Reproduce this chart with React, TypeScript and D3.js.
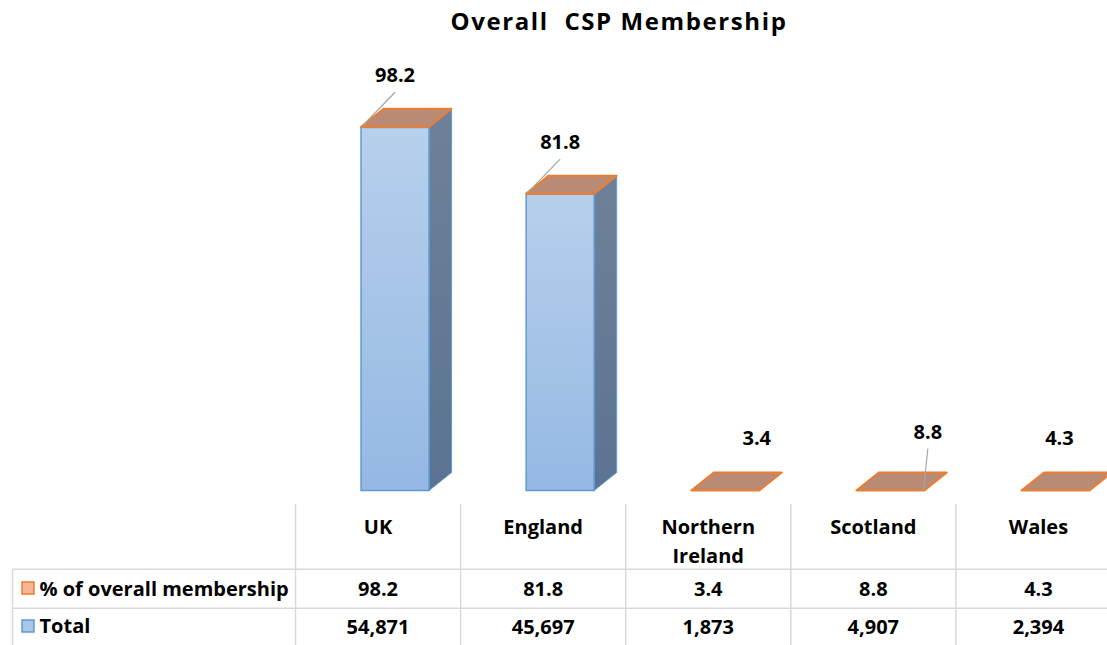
import { useEffect } from 'react';
import * as d3 from 'd3';

// chart data
const categories = ['UK', 'England', 'Northern Ireland', 'Scotland', 'Wales'];
const pctValues = [98.2, 81.8, 3.4, 8.8, 4.3];
const totalValues = [54871, 45697, 1873, 4907, 2394];
const seriesNames = ['% of overall membership', 'Total'];
const yDomain = [5000, 55000];

// layout only: data label offsets (from front-face centre / bar top to baseline), leader on/off
const labelDX = [0, 0, 31.5, 37.5, 4];
const labelDY = [-44.5, -44.5, -45.5, -52, -45.5];
const hasLeader = [true, true, false, true, false];

const W = 1107;
const H = 645;
const FONT = '"Open Sans", Lato, sans-serif';

const App = () => {
    useEffect(() => {
        document.body.style.margin = '0';
    }, []);

    const x = d3.scaleBand().domain(categories).range([295.5, 1121]).padding(0);
    const y = d3.scaleLinear().domain(yDomain).range([490.5, 126.5]).clamp(true);
    const bw = x.bandwidth();
    const faceW = 68;
    const dx = 22.5;
    const dy = -18;
    const base = y(yDomain[0]);

    const rowTop = 504;
    const row1 = 569.3;
    const row2 = 608.3;
    const tableLeft = 12.5;
    const grid = '#d9d9d9';
    const fs = 20;

    const para = (x0, yy) =>
        `M${x0},${yy} L${x0 + faceW},${yy} L${x0 + faceW + dx},${yy + dy} L${x0 + dx},${yy + dy} Z`;

    return (
        <svg width={W} height={H} style={{ display: 'block', background: '#fff' }}>
            <defs>
                <linearGradient id="front" x1="0" y1="0" x2="0" y2="1">
                    <stop offset="0" stopColor="#b7d0ec" />
                    <stop offset="1" stopColor="#95b8e3" />
                </linearGradient>
                <linearGradient id="side" x1="0" y1="0" x2="0" y2="1">
                    <stop offset="0" stopColor="#6f8198" />
                    <stop offset="1" stopColor="#5b7392" />
                </linearGradient>
            </defs>

            <text x={619} y={29.5} textAnchor="middle" fontFamily={FONT} fontWeight="bold" fontSize={24} letterSpacing={1.6} fill="#000" style={{ whiteSpace: 'pre' }}>
                Overall  CSP Membership
            </text>

            {categories.map((c, i) => {
                const fx = x(c) + bw / 2 - 17;
                const top = y(totalValues[i]);
                const slabBottom = y(totalValues[i]);
                const slabTop = y(totalValues[i] + pctValues[i]);
                const showBlue = base - top > 0.5;
                return (
                    <g key={c}>
                        {showBlue && (
                            <g>
                                <path
                                    d={`M${fx + faceW},${top} L${fx + faceW + dx},${top + dy} L${fx + faceW + dx},${base + dy} L${fx + faceW},${base} Z`}
                                    fill="url(#side)"
                                    stroke="#5b9bd5"
                                    strokeWidth={1}
                                />
                                <rect x={fx} y={top} width={faceW} height={base - top} fill="url(#front)" stroke="#5b9bd5" strokeWidth={1.5} />
                            </g>
                        )}
                        <rect x={fx} y={slabTop} width={faceW} height={Math.max(0, slabBottom - slabTop)} fill="#ed7d31" />
                        <path d={para(fx, slabTop)} fill="#b98b75" stroke="#ed7d31" strokeWidth={2} strokeLinejoin="round" />
                    </g>
                );
            })}

            {categories.map((c, i) => {
                const fx = x(c) + bw / 2 - 17;
                const top = y(totalValues[i] + pctValues[i]);
                const lx = fx + faceW / 2 + labelDX[i];
                const ly = top + labelDY[i];
                return (
                    <g key={'l' + c}>
                        {hasLeader[i] && i < 2 && (
                            <line x1={lx} y1={ly + 10} x2={fx + 1.5} y2={top - 1} stroke="#a6a6a6" strokeWidth={1.2} />
                        )}
                        {hasLeader[i] && i >= 2 && (
                            <line x1={lx} y1={ly + 10} x2={lx - 4.3} y2={base} stroke="#a6a6a6" strokeWidth={1.2} />
                        )}
                        <text x={lx} y={ly} textAnchor="middle" fontFamily={FONT} fontWeight="bold" fontSize={fs} fill="#000">
                            {pctValues[i]}
                        </text>
                    </g>
                );
            })}

            {/* data table */}
            <g stroke={grid} strokeWidth={1.5}>
                {x.domain().map((c) => (
                    <line key={'v' + c} x1={x(c)} x2={x(c)} y1={rowTop} y2={H} />
                ))}
                <line x1={x(categories[categories.length - 1]) + bw} x2={x(categories[categories.length - 1]) + bw} y1={rowTop} y2={H} />
                <line x1={tableLeft} x2={tableLeft} y1={row1} y2={H} />
                <line x1={tableLeft} x2={W} y1={row1} y2={row1} />
                <line x1={tableLeft} x2={W} y1={row2} y2={row2} />
            </g>

            {categories.map((c) => {
                const words = c.split(' ');
                return (
                    <text key={'h' + c} x={x(c) + bw / 2} textAnchor="middle" fontFamily={FONT} fontWeight="bold" fontSize={fs} fill="#000">
                        {words.map((w, k) => (
                            <tspan key={k} x={x(c) + bw / 2} y={534 + k * 29}>
                                {w}
                            </tspan>
                        ))}
                    </text>
                );
            })}

            {categories.map((c, i) => (
                <g key={'r' + c} fontFamily={FONT} fontWeight="bold" fontSize={fs} fill="#000" textAnchor="middle">
                    <text x={x(c) + bw / 2} y={596}>{pctValues[i]}</text>
                    <text x={x(c) + bw / 2} y={633.5}>{d3.format(',')(totalValues[i])}</text>
                </g>
            ))}

            {seriesNames.map((s, i) => {
                const cy = i === 0 ? 588 : 626;
                return (
                    <g key={s}>
                        <rect
                            x={22}
                            y={cy - 6}
                            width={12}
                            height={12}
                            fill={i === 0 ? '#f6b596' : '#a9c6e8'}
                            stroke={i === 0 ? '#ed7d31' : '#5b9bd5'}
                            strokeWidth={1.5}
                        />
                        <text x={39.5} y={i === 0 ? 595.5 : 633} fontFamily={FONT} fontWeight="bold" fontSize={fs} fill="#000">
                            {s}
                        </text>
                    </g>
                );
            })}
        </svg>
    );
};

export default App;
